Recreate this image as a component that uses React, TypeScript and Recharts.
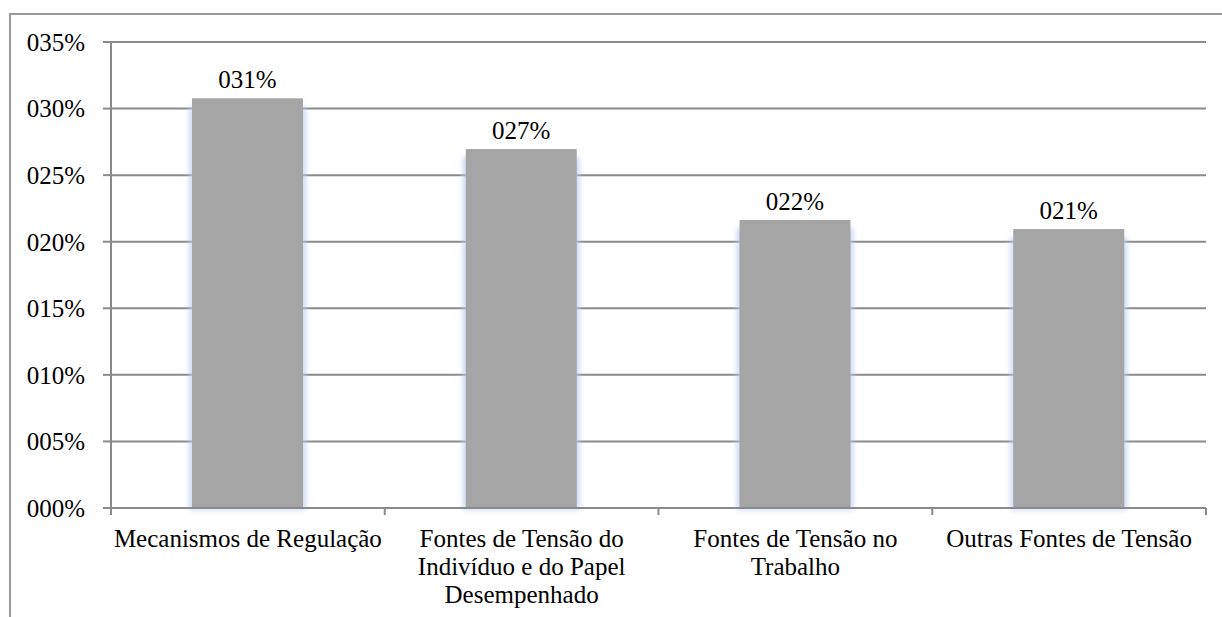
import React from "react";
import { BarChart, Bar, XAxis, YAxis, CartesianGrid, LabelList } from "recharts";

const categories = [
  "Mecanismos de Regulação",
  "Fontes de Tensão do\nIndivíduo e do Papel\nDesempenhado",
  "Fontes de Tensão no\nTrabalho",
  "Outras Fontes de Tensão",
];
const values = [0.3077, 0.2696, 0.2163, 0.2095];
const yTicks = [0, 0.05, 0.1, 0.15, 0.2, 0.25, 0.3, 0.35];

const data = categories.map((c, i) => ({ name: c, value: values[i] }));

const W = 1222;
const H = 617;
const MARGIN = { top: 42, right: 16, bottom: 0, left: 0 };
const Y_AXIS_W = 111;
const X_AXIS_H = 109;
const BAND = (W - MARGIN.left - MARGIN.right - Y_AXIS_W) / categories.length;
const FONT = "Liberation Serif, Times New Roman, serif";
const GRID = "#8a8a8a";

const pct = (v: number) => String(Math.round(v * 100)).padStart(3, "0") + "%";

const XTick = (props: any) => {
  const { x, y, payload, index, visibleTicksCount } = props;
  const lines = String(payload.value).split("\n");
  return (
    <g>
      <line x1={x - BAND / 2} x2={x - BAND / 2} y1={y} y2={y + 7} stroke={GRID} strokeWidth={2} />
      {index === visibleTicksCount - 1 && (
        <line x1={x + BAND / 2} x2={x + BAND / 2} y1={y} y2={y + 7} stroke={GRID} strokeWidth={2} />
      )}
      <text x={x} y={y + 39} textAnchor="middle" fill="#000" style={{ fontFamily: FONT, fontSize: 25 }}>
        {lines.map((l, i) => (
          <tspan key={i} x={x} dy={i === 0 ? 0 : 28}>
            {l}
          </tspan>
        ))}
      </text>
    </g>
  );
};

const GlowBar = (props: any) => {
  const { x, y, width, height } = props;
  return (
    <g>
      <defs>
        <filter id="barglow" x="-20%" y="-20%" width="140%" height="140%">
          <feGaussianBlur stdDeviation="2.5" />
        </filter>
      </defs>
      <rect x={x - 3} y={y + 8} width={width + 6} height={Math.max(height - 6, 0)} fill="#b9cdee" opacity={0.7} filter="url(#barglow)" />
      <rect x={x} y={y} width={width} height={height} fill="#a5a5a5" />
    </g>
  );
};

export default function App() {
  return (
    <div style={{ position: "absolute", left: 0, top: 0, width: W, height: H, background: "#fff", overflow: "hidden", fontFamily: FONT }}>
      <div style={{ position: "absolute", left: 9, top: 13, width: W, height: H, borderLeft: "2px solid #9a9a9a", borderTop: "2px solid #9a9a9a" }} />
      <div style={{ position: "absolute", left: 0, top: 0, fontFamily: FONT }}>
        <BarChart width={W} height={H} data={data} margin={MARGIN} style={{ fontFamily: FONT }}>
          <CartesianGrid vertical={false} stroke={GRID} strokeWidth={2} />
          <XAxis
            dataKey="name"
            interval={0}
            height={X_AXIS_H}
            tickLine={false}
            tickSize={0}
            tickMargin={0}
            axisLine={{ stroke: GRID, strokeWidth: 2 }}
            tick={<XTick />}
          />
          <YAxis
            width={Y_AXIS_W}
            domain={[0, 0.35]}
            ticks={yTicks}
            tickFormatter={pct}
            tickSize={8}
            tickMargin={18}
            axisLine={{ stroke: GRID, strokeWidth: 2 }}
            tickLine={{ stroke: GRID, strokeWidth: 2 }}
            tick={{ fontSize: 25, fill: "#000", style: { fontFamily: FONT } }}
            interval={0}
          />
          <Bar dataKey="value" barSize={111} isAnimationActive={false} shape={<GlowBar />}>
            <LabelList
              dataKey="value"
              position="top"
              offset={10}
              formatter={(v: any) => pct(Number(v))}
              fill="#000"
              fontSize={25}
              style={{ fontSize: 25, fill: "#000", fontFamily: FONT }}
            />
          </Bar>
        </BarChart>
      </div>
    </div>
  );
}
